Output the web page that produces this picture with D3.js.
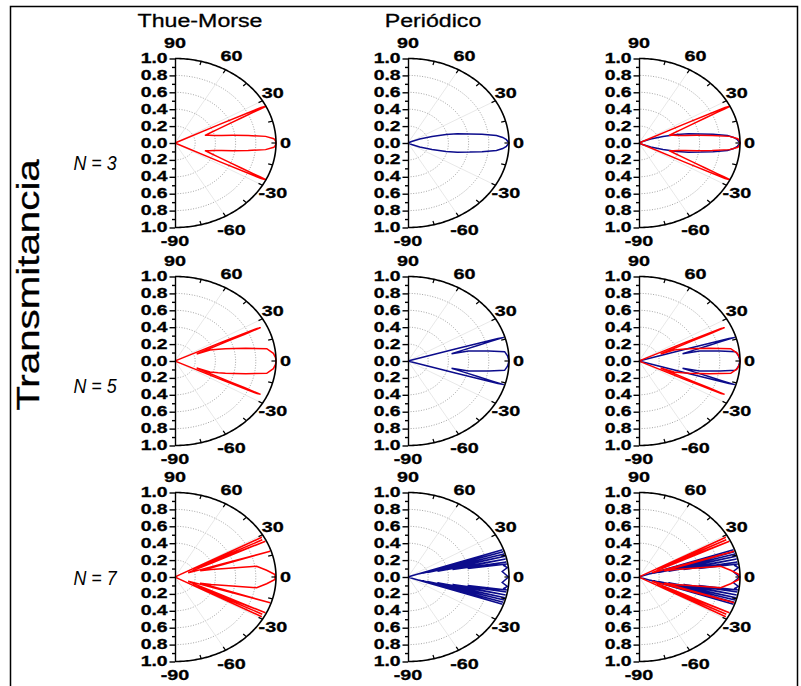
<!DOCTYPE html>
<html><head><meta charset="utf-8">
<script src="https://cdn.jsdelivr.net/npm/d3@7"></script>
<style>body{margin:0;background:#fff}svg{display:block}text{font-family:"Liberation Sans",Arial,sans-serif}</style>
</head><body><svg id="c" width="801" height="686"></svg>
<script>
// ---- data (angle in degrees, transmittance) ----
const colTitles = ["Thue-Morse", "Periódico", ""];
const rowLabels = ["3", "5", "7"];
const radialTicks = [-1, -0.8, -0.6, -0.4, -0.2, 0, 0.2, 0.4, 0.6, 0.8, 1];
const angleTicks = [90, 60, 30, 0, -30, -60, -90];

const tm3Angle = [90,60,40,30,27,26.6,26.2,25.8,25.4,25.1,24.3,22.9,20.9,19.2,17,15,13,11,9,7,5,3,1.5,0,-1.5,-3,-5,-7,-9,-11,-13,-15,-17,-19.2,-20.9,-22.9,-24.3,-25.1,-25.4,-25.8,-26.2,-26.6,-27,-30,-40,-60,-90];
const tm3T     = [0,0,0,0,0.02,0.5,0.95,1,0.93,0.86,0.72,0.58,0.445,0.377,0.31,0.35,0.40,0.47,0.58,0.73,0.9,0.98,0.995,1,0.995,0.98,0.9,0.73,0.58,0.47,0.40,0.35,0.31,0.377,0.445,0.58,0.72,0.86,0.93,1,0.95,0.5,0.02,0,0,0,0];

const per3Angle = [90,40,30,26,22,18,15,12.5,10,8,5.7,4,2.3,0,-2.3,-4,-5.7,-8,-10,-12.5,-15,-18,-22,-26,-30,-40,-90];
const per3T     = [0,0,0,0.04,0.125,0.25,0.39,0.5,0.62,0.74,0.88,0.94,0.975,1,0.975,0.94,0.88,0.74,0.62,0.5,0.39,0.25,0.125,0.04,0,0,0];

const tm5Angle = [90,40,27,26.2,25.8,25.4,25.0,24.6,24.3,23.5,22.8,21.1,20.5,18,16.2,14,12.1,9.1,5.3,2.3,0,-2.3,-5.3,-9.1,-12.1,-14,-16.2,-18,-20.5,-21.1,-22.8,-23.5,-24.3,-24.6,-25.0,-25.4,-25.8,-26.2,-27,-40,-90];
const tm5T     = [0,0,0,0.05,0.5,0.9,0.935,0.76,0.58,0.44,0.336,0.23,0.37,0.45,0.52,0.61,0.716,0.92,0.978,0.996,1,0.996,0.978,0.92,0.716,0.61,0.52,0.45,0.37,0.23,0.336,0.44,0.58,0.76,0.935,0.9,0.5,0.05,0,0,0];

const per5Angle = [90,40,18,17.3,16.9,16.6,16.4,15.8,14.9,13.5,11.4,11.1,8.4,6.6,3.5,0,-3.5,-6.6,-8.4,-11.1,-11.4,-13.5,-14.9,-15.8,-16.4,-16.6,-16.9,-17.3,-18,-40,-90];
const per5T     = [0,0,0,0.05,0.5,0.93,0.99,0.852,0.714,0.576,0.44,0.611,0.809,0.963,0.987,1,0.987,0.963,0.809,0.611,0.44,0.576,0.714,0.852,0.99,0.93,0.5,0.05,0,0,0];

const tm7Angle = [90,40,30,29.2,28.7,27.8,27.0,26.2,25.3,24.5,23,21,19.5,18.4,17.9,17.3,16.5,14,11.3,8.9,5.0,1.7,0,-1.7,-5.0,-8.9,-11.3,-14,-16.5,-17.3,-17.9,-18.4,-19.5,-21,-23,-24.5,-25.3,-26.2,-27.0,-27.8,-28.7,-29.2,-30,-40,-90];
const tm7T     = [0,0,0,0.05,0.98,0.2,0.97,0.25,0.99,0.4,0.2,0.14,0.2,0.5,0.99,0.5,0.26,0.37,0.51,0.818,0.911,0.99,0.99,0.99,0.911,0.818,0.51,0.37,0.26,0.5,0.99,0.5,0.2,0.14,0.2,0.4,0.99,0.25,0.97,0.2,0.98,0.05,0,0,0];

const per7Angle = [90,40,21,19.6,19.0,18.3,17.6,16.8,16.0,15.1,14.3,13.3,12.4,11.3,10.4,9.7,9.0,8.0,6.5,4.0,0,-4.0,-6.5,-8.0,-9.0,-9.7,-10.4,-11.3,-12.4,-13.3,-14.3,-15.1,-16.0,-16.8,-17.6,-18.3,-19.0,-19.6,-21,-40,-90];
const per7T     = [0,0,0,0.05,0.99,0.12,0.99,0.15,0.99,0.2,0.99,0.3,0.99,0.45,0.99,0.6,0.99,0.96,0.99,0.935,0.995,0.935,0.99,0.96,0.99,0.6,0.99,0.45,0.99,0.3,0.99,0.2,0.99,0.15,0.99,0.12,0.99,0.05,0,0,0];

const RED = "#ff0000", BLUE = "#0c0c8c";
const panelSeries = [
  [[{a:tm3Angle,t:tm3T,c:RED}], [{a:per3Angle,t:per3T,c:BLUE}], [{a:per3Angle,t:per3T,c:BLUE},{a:tm3Angle,t:tm3T,c:RED}]],
  [[{a:tm5Angle,t:tm5T,c:RED}], [{a:per5Angle,t:per5T,c:BLUE}], [{a:per5Angle,t:per5T,c:BLUE},{a:tm5Angle,t:tm5T,c:RED}]],
  [[{a:tm7Angle,t:tm7T,c:RED}], [{a:per7Angle,t:per7T,c:BLUE}], [{a:per7Angle,t:per7T,c:BLUE},{a:tm7Angle,t:tm7T,c:RED}]]
];

// ---- layout ----
const colX = [175, 408, 639];
const rowY = [143, 361, 577];
const rowLabelDy = [19, 24, 0];
const RX = 101, RY = 84.5;
const svg = d3.select("#c");

// frame
svg.append("path").attr("d", "M10.5,686 V6.5 H797.5 V686").attr("fill","none").attr("stroke","#000").attr("stroke-width",1.5);

function stretchText(parent, x, y, str, o) {
  const g = parent.append("g").attr("transform", `translate(${x},${y})${o.rot?` rotate(${o.rot})`:""} scale(${o.sx||1},1)`);
  return g.append("text").attr("x",0).attr("y",0).text(str)
    .attr("font-size", o.size).attr("font-weight", o.bold?"bold":"normal")
    .attr("font-style", o.italic?"italic":"normal")
    .attr("stroke", o.halo ? "#000" : "none").attr("stroke-width", o.halo || 0)
    .attr("text-anchor", o.anchor||"middle").attr("dominant-baseline","central").attr("fill","#000");
}

const rX = d3.scaleLinear().domain([0,1]).range([0,RX]);
const rY = d3.scaleLinear().domain([0,1]).range([0,RY]);
const ang = d3.scaleLinear().domain([-90,90]).range([-Math.PI/2, Math.PI/2]);

rowY.forEach((cy, ri) => {
  colX.forEach((cx, ci) => {
    const g = svg.append("g");
    const px = (a, r) => cx + rX(r) * Math.cos(ang(a));
    const py = (a, r) => cy - rY(r) * Math.sin(ang(a));
    const arcLine = r => d3.line().x(a => px(a, r)).y(a => py(a, r))(d3.range(-90, 90.01, 1));
    // grid ellipses
    [0.2,0.4,0.6,0.8].forEach(v => g.append("path").attr("d", arcLine(v)).attr("fill","none")
      .attr("stroke","#8a8a8a").attr("stroke-width",0.8).attr("stroke-dasharray","1,1.6"));
    // radial grid lines
    [60,30,-30,-60].forEach(a => g.append("line").attr("x1",cx).attr("y1",cy).attr("x2",px(a,1)).attr("y2",py(a,1))
      .attr("stroke","#e2e2e2").attr("stroke-width",0.8));
    // series
    panelSeries[ri][ci].forEach(s => {
      const pts = s.a.map((a,i) => [a, s.t[i]]);
      g.append("path").attr("d", d3.line().x(d => px(d[0], d[1])).y(d => py(d[0], d[1]))(pts))
        .attr("fill","none").attr("stroke", s.c).attr("stroke-width",1.5).attr("stroke-linejoin","miter");
    });
    // outer arc
    g.append("path").attr("d", arcLine(1)).attr("fill","none").attr("stroke","#000").attr("stroke-width",1.6);
    // arc ticks every 15 deg (inward)
    d3.range(-75, 76, 15).forEach(a => g.append("line")
      .attr("x1", px(a,1)).attr("y1", py(a,1)).attr("x2", px(a,0.955)).attr("y2", py(a,0.955))
      .attr("stroke","#000").attr("stroke-width",1.2));
    // left radial axis
    const yS = d3.scaleLinear().domain([-1,1]).range([cy+RY, cy-RY]);
    const axG = g.append("g").attr("transform",`translate(${cx},0)`);
    axG.call(d3.axisLeft(yS).tickValues(d3.range(-1, 1.001, 0.1)).tickSize(3).tickSizeOuter(0).tickFormat(""));
    axG.selectAll(".tick").filter(d => radialTicks.some(v => Math.abs(v-d) < 1e-6)).select("line").attr("x2",-5.5);
    axG.selectAll("line,path").attr("stroke","#000").attr("stroke-width",1.4);
    radialTicks.forEach(v => stretchText(g, cx - 7.5, yS(v), Math.abs(v).toFixed(1), {size:14, bold:true, sx:1.38, anchor:"end", halo:0.3}));
    // angle labels
    angleTicks.forEach(a => {
      let lx, ly;
      if (a === 90) { lx = cx; ly = cy - RY - 16; }
      else if (a === -90) { lx = cx; ly = cy + RY + 13; }
      else if (a === 0) { lx = cx + RX + 4; ly = cy; }
      else { lx = px(a,1) + 12*Math.cos(ang(a)); ly = py(a,1) - 16*Math.sin(ang(a)); }
      stretchText(g, lx, ly, String(a), {size:15, bold:true, sx:1.32, anchor: a===0 ? "start" : "middle", halo:0.3});
    });
  });
});

// column titles
colTitles.forEach((t, i) => { if (t) stretchText(svg, colX[i] + 25, 20, t, {size:19, sx:1.22, halo:0.3}); });
// row labels
rowLabels.forEach((n, i) => stretchText(svg, 95, rowY[i] + rowLabelDy[i], "N = " + n, {size:21, italic:true, sx:0.85}));
// y title
stretchText(svg, 28, 285, "Transmitancia", {size:31, sx:1.3, rot:-90, halo:0.3});
</script></body></html>
